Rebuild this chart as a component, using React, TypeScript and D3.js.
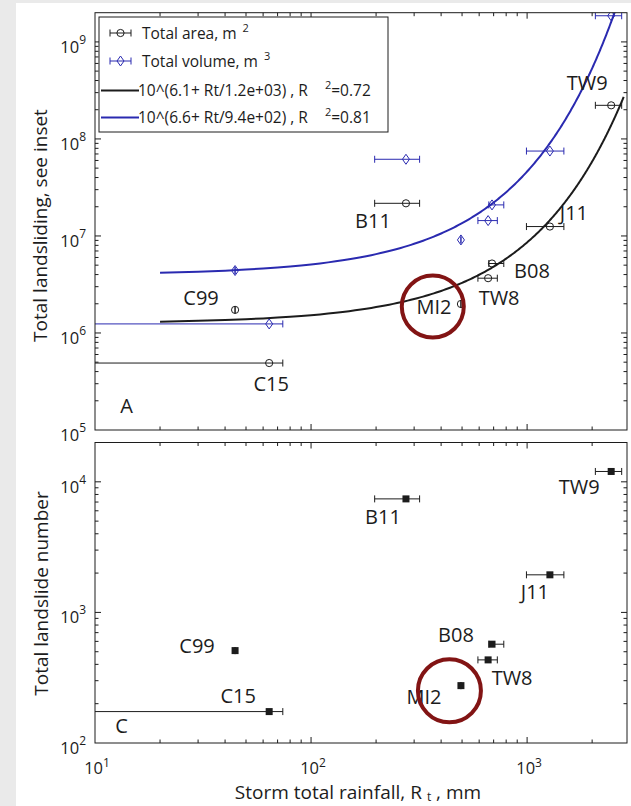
import React from 'react';
import * as d3 from 'd3';

// ---- data ----
const events = ['C15', 'C99', 'B11', 'MI2', 'TW8', 'B08', 'J11', 'TW9'];
const rainfall = [64, 44.5, 275, 494, 660, 688, 1275, 2450];
const rainfallLo = [5, 44.5, 197, 494, 592, 665, 993, 2070];
const rainfallHi = [74, 44.5, 318, 494, 728, 780, 1480, 2740];
const totalArea = [4.9e5, 1.73e6, 2.17e7, 1.99e6, 3.67e6, 5.2e6, 1.25e7, 2.22e8];
const totalVolume = [1.24e6, 4.4e6, 6.17e7, 9.1e6, 1.44e7, 2.09e7, 7.5e7, 1.86e9];
const landslideCount = [174, 510, 7400, 275, 433, 571, 1940, 12000];

const fitNames = ['area', 'volume'];
const fitIntercept = [6.1, 6.6];
const fitDivisor = [1200, 940];
const fitDivisorLabel = ['1.2e+03', '9.4e+02'];
const fitR2 = ['0.72', '0.81'];
const fitRtRange = [20, 2800];

const xTickLabels = [10, 100, 1000];
const yTicksA = [1e5, 1e6, 1e7, 1e8, 1e9];
const yTicksC = [1e2, 1e3, 1e4];

// label offsets (pixels) relative to markers
const labelOffA: Record<string, [number, number]> = {
  TW9: [-24, -22], B11: [-33, 18], J11: [24, -14], B08: [40, 7],
  TW8: [11, 20], MI2: [-27, 3], C99: [-34, -12], C15: [2, 21],
};
const labelOffC: Record<string, [number, number]> = {
  TW9: [-32, 16], B11: [-23, 18], J11: [-15, 17.5], B08: [-36, -9],
  TW8: [24, 18.5], MI2: [-37, 11], C99: [-38, -5], C15: [-31, -16],
};

const FONT = '"Open Sans", sans-serif';
const INK = '#1c1c1c';
const BLUE = '#2a2ab0';
const RED = '#821414';

const L = 95, R = 627;
const A_TOP = 12.7, A_BOT = 430;
const C_TOP = 442.5, C_BOT = 743;

function isMajor(v: number) {
  const l = Math.log10(v);
  return Math.abs(l - Math.round(l)) < 1e-9;
}

function Frame({ x, y, top, bot }: any) {
  const xt = x.ticks();
  const yt = y.ticks();
  const els: any[] = [];
  xt.forEach((v: number, i: number) => {
    const px = x(v);
    if (px < L + 0.5 || px > R - 0.5) return;
    const len = isMajor(v) ? 6 : 3.5;
    els.push(<line key={'xb' + i} x1={px} x2={px} y1={bot} y2={bot - len} />);
    els.push(<line key={'xt' + i} x1={px} x2={px} y1={top} y2={top + len} />);
  });
  yt.forEach((v: number, i: number) => {
    const py = y(v);
    if (py < top + 0.5 || py > bot - 0.5) return;
    const len = isMajor(v) ? 6 : 3.5;
    els.push(<line key={'yl' + i} x1={L} x2={L + len} y1={py} y2={py} />);
    els.push(<line key={'yr' + i} x1={R} x2={R - len} y1={py} y2={py} />);
  });
  return (
    <g stroke={INK} strokeWidth={1} fill="none">
      {els}
      <rect x={L} y={top} width={R - L} height={bot - top} />
    </g>
  );
}

function ErrBar({ x1, x2, y, color }: any) {
  return (
    <g stroke={color} strokeWidth={1}>
      <line x1={x1} x2={x2} y1={y} y2={y} />
      <line x1={x1} x2={x1} y1={y - 3.5} y2={y + 3.5} />
      <line x1={x2} x2={x2} y1={y - 3.5} y2={y + 3.5} />
    </g>
  );
}

function Pow({ x, y, base, exp, anchor, dy }: any) {
  return (
    <text x={x} y={y} textAnchor={anchor} fontFamily={FONT} fontSize={16.5} fill={INK}>
      {base}
      <tspan fontSize={12} dy={dy}>{exp}</tspan>
    </text>
  );
}

export default function App() {
  const x = d3.scaleLog().domain([10, 2900]).range([L, R]);
  const yA = d3.scaleLog().domain([1e5, 2e9]).range([A_BOT, A_TOP]);
  const yC = d3.scaleLog().domain([100, 2e4]).range([C_BOT, C_TOP]);

  const rts = d3.range(fitRtRange[0], fitRtRange[1] + 1, 10);
  const fitPaths = fitNames.map((_, k) =>
    d3.line<number>()
      .x((r) => x(r))
      .y((r) => yA(Math.pow(10, fitIntercept[k] + r / fitDivisor[k])))
      .curve(d3.curveLinear)(rts)
  );
  const fitColors = [INK, BLUE];

  return (
    <svg width={631} height={806} style={{ position: 'absolute', left: 0, top: 0 }}>
      <rect x={0} y={0} width={631} height={806} fill="#eaeaea" />
      <rect x={16} y={3} width={615} height={803} fill="#ffffff" />
      <defs>
        <clipPath id="clipA"><rect x={L} y={A_TOP} width={R - L} height={A_BOT - A_TOP} /></clipPath>
        <clipPath id="clipC"><rect x={L} y={C_TOP} width={R - L} height={C_BOT - C_TOP} /></clipPath>
      </defs>

      {/* ===== Panel A ===== */}
      <g clipPath="url(#clipA)">
        {fitPaths.map((p, k) => (
          <path key={k} d={p || ''} fill="none" stroke={fitColors[k]} strokeWidth={2} />
        ))}
        {events.map((e, i) => (
          <g key={'a' + e}>
            <ErrBar x1={x(rainfallLo[i])} x2={x(rainfallHi[i])} y={yA(totalArea[i])} color={INK} />
            <circle cx={x(rainfall[i])} cy={yA(totalArea[i])} r={3.6} fill="none" stroke={INK} strokeWidth={1} />
            <ErrBar x1={x(rainfallLo[i])} x2={x(rainfallHi[i])} y={yA(totalVolume[i])} color={BLUE} />
            <path
              d={`M${x(rainfall[i])},${yA(totalVolume[i]) - 5}l3.5,5l-3.5,5l-3.5,-5z`}
              fill="none" stroke={BLUE} strokeWidth={1}
            />
          </g>
        ))}
      </g>
      <Frame x={x} y={yA} top={A_TOP} bot={A_BOT} />
      {events.map((e, i) => (
        <text key={'la' + e} x={x(rainfall[i]) + labelOffA[e][0]} y={yA(totalArea[i]) + labelOffA[e][1] + 7}
          textAnchor="middle" fontFamily={FONT} fontSize={20} fill={INK}>{e}</text>
      ))}
      <text x={126.5} y={413} textAnchor="middle" fontFamily={FONT} fontSize={20} fill={INK}>A</text>
      <circle cx={x(366)} cy={yA(1.87e6)} r={31} fill="none" stroke={RED} strokeWidth={4} />
      {yTicksA.map((v) => (
        <Pow key={'ya' + v} x={86} y={yA(v) + 11} base="10" exp={String(Math.round(Math.log10(v)))} anchor="end" dy={-9} />
      ))}
      <text transform={`translate(47,225.5) rotate(-90)`} textAnchor="middle" fontFamily={FONT} fontSize={19} fill={INK}>
        Total landsliding, see inset
      </text>

      {/* legend */}
      <g>
        <rect x={99} y={17} width={289} height={115} fill="#fff" stroke={INK} strokeWidth={1} />
        <ErrBar x1={110} x2={131} y={33} color={INK} />
        <circle cx={120.5} cy={33} r={3.6} fill="none" stroke={INK} />
        <text x={142} y={38.5} fontFamily={FONT} fontSize={15.5} fill={INK}>
          Total area, m<tspan dx={6} dy={-7} fontSize={11}>2</tspan>
        </text>
        <ErrBar x1={110} x2={131} y={61} color={BLUE} />
        <path d={`M120.5,56l3.5,5l-3.5,5l-3.5,-5z`} fill="none" stroke={BLUE} />
        <text x={142} y={66.5} fontFamily={FONT} fontSize={15.5} fill={INK}>
          Total volume, m<tspan dx={6} dy={-7} fontSize={11}>3</tspan>
        </text>
        {fitNames.map((_, k) => {
          const cy = k === 0 ? 90.5 : 117.5;
          return (
            <g key={'lg' + k}>
              <line x1={101} x2={139} y1={cy} y2={cy} stroke={fitColors[k]} strokeWidth={2} />
              <text x={138} y={cy + 5.5} fontFamily={FONT} fontSize={15.5} fill={INK}>
                {`10^(${fitIntercept[k]}+ Rt/${fitDivisorLabel[k]}) , R`}
                <tspan dx={17} dy={-7} fontSize={11}>2</tspan>
                <tspan dy={7}>{`=${fitR2[k]}`}</tspan>
              </text>
            </g>
          );
        })}
      </g>

      {/* ===== Panel C ===== */}
      <g clipPath="url(#clipC)">
        {events.map((e, i) => (
          <g key={'c' + e}>
            <ErrBar x1={x(rainfallLo[i])} x2={x(rainfallHi[i])} y={yC(landslideCount[i])} color={INK} />
            <rect x={x(rainfall[i]) - 3.5} y={yC(landslideCount[i]) - 3.5} width={7} height={7} fill={INK} />
          </g>
        ))}
      </g>
      <Frame x={x} y={yC} top={C_TOP} bot={C_BOT} />
      {events.map((e, i) => (
        <text key={'lc' + e} x={x(rainfall[i]) + labelOffC[e][0]} y={yC(landslideCount[i]) + labelOffC[e][1] + 7}
          textAnchor="middle" fontFamily={FONT} fontSize={20} fill={INK}>{e}</text>
      ))}
      <text x={121.5} y={732.5} textAnchor="middle" fontFamily={FONT} fontSize={20} fill={INK}>C</text>
      <circle cx={x(437)} cy={yC(251)} r={31.5} fill="none" stroke={RED} strokeWidth={4} />
      {yTicksC.map((v) => (
        <Pow key={'yc' + v} x={86} y={yC(v) + 11} base="10" exp={String(Math.round(Math.log10(v)))} anchor="end" dy={-9} />
      ))}
      <text transform={`translate(48,593.5) rotate(-90)`} textAnchor="middle" fontFamily={FONT} fontSize={19} fill={INK}>
        Total landslide number
      </text>

      {xTickLabels.map((v) => (
        <Pow key={'x' + v} x={x(v) + 2} y={774} base="10" exp={String(Math.round(Math.log10(v)))} anchor="middle" dy={-7} />
      ))}
      <text x={358} y={799} textAnchor="middle" fontFamily={FONT} fontSize={19} fill={INK}>
        Storm total rainfall, R<tspan dx={5} dy={2} fontSize={12}>t</tspan><tspan dy={-2}> , mm</tspan>
      </text>
    </svg>
  );
}
